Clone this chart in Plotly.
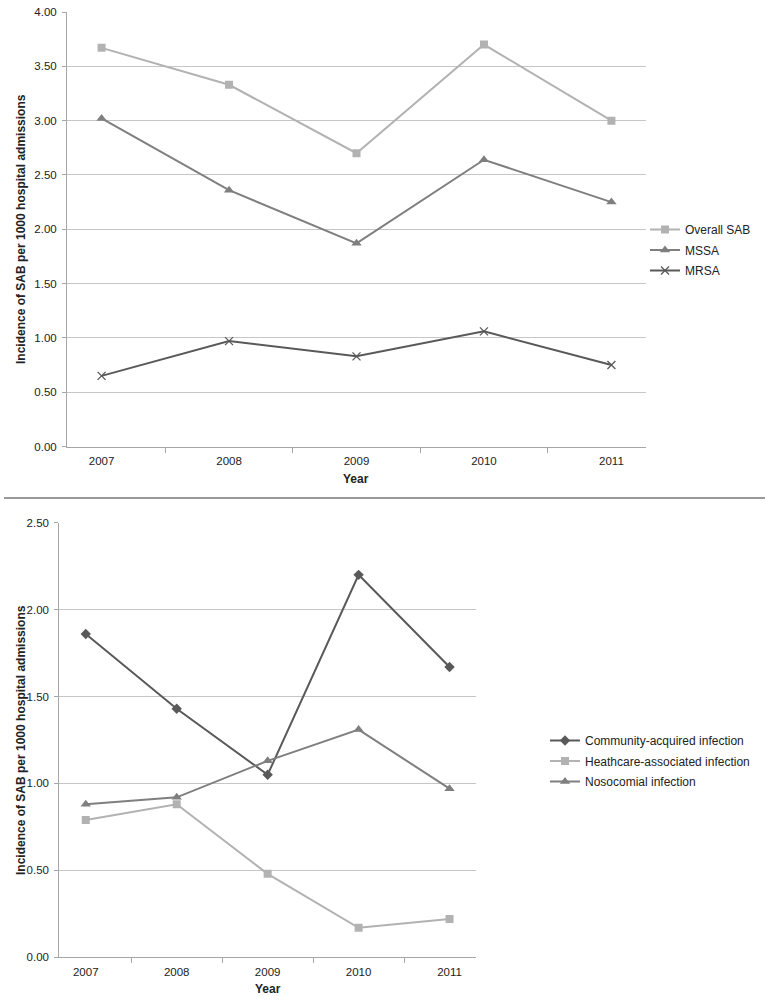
import plotly.graph_objects as go

W, H = 769, 1001

years = ["2007", "2008", "2009", "2010", "2011"]

# Top chart
overall_sab = [3.67, 3.33, 2.70, 3.70, 3.00]
mssa = [3.02, 2.36, 1.87, 2.64, 2.25]
mrsa = [0.65, 0.97, 0.83, 1.06, 0.75]

# Bottom chart
community = [1.86, 1.43, 1.05, 2.20, 1.67]
healthcare = [0.79, 0.88, 0.48, 0.17, 0.22]
nosocomial = [0.88, 0.92, 1.13, 1.31, 0.97]

top_ticks = [0, 0.5, 1, 1.5, 2, 2.5, 3, 3.5, 4]
bottom_ticks = [0, 0.5, 1, 1.5, 2, 2.5]

LIGHT = "#b2b2b2"
MID = "#7f7f7f"
DARK = "#595959"
FONT = "Liberation Sans, Arial, sans-serif"

fig = go.Figure()

def add(y, name, color, symbol, size, xa, ya, legend, lw=2):
    fig.add_trace(go.Scatter(
        x=years, y=y, name=name, mode="lines+markers",
        line=dict(color=color, width=lw),
        marker=dict(symbol=symbol, size=size, color=color,
                    line=dict(color=color, width=1.3 if "thin" in symbol else 0)),
        xaxis=xa, yaxis=ya, legend=legend, legendgroup=name,
    ))

add(overall_sab, "Overall SAB", LIGHT, "square", 8, "x", "y", "legend")
add(mssa, "MSSA", MID, "triangle-up", 9, "x", "y", "legend")
add(mrsa, "MRSA", DARK, "x-thin", 8, "x", "y", "legend")

add(community, "Community-acquired infection", DARK, "diamond", 8, "x2", "y2", "legend2")
add(healthcare, "Heathcare-associated infection", LIGHT, "square", 8, "x2", "y2", "legend2")
add(nosocomial, "Nosocomial infection", MID, "triangle-up", 9, "x2", "y2", "legend2")

def px_x(p):
    return p / W

def px_y(p):
    return 1 - p / H

xcommon = dict(type="category", tickson="boundaries", ticks="outside", ticklen=5,
               tickcolor="#a6a6a6", showline=True, linecolor="#a6a6a6", linewidth=1,
               showgrid=False, automargin=False, ticklabelstandoff=4,
               tickfont=dict(family=FONT, size=11.5, color="#222"),
               fixedrange=True)
ycommon = dict(ticks="outside", ticklen=4, tickcolor="#a6a6a6", showline=True,
               linecolor="#a6a6a6", linewidth=1, showgrid=True, gridcolor="#c6c6c6",
               gridwidth=1, zeroline=False, tickformat=".2f", automargin=False,
               ticklabelstandoff=3,
               tickfont=dict(family=FONT, size=11.5, color="#222"), fixedrange=True)

fig.update_layout(
    template="none",
    width=W, height=H,
    margin=dict(l=0, r=0, t=0, b=0, pad=0),
    paper_bgcolor="white", plot_bgcolor="white",
    font=dict(family=FONT, size=12, color="#222"),
    xaxis=dict(domain=[px_x(67), px_x(646)], anchor="y", **xcommon),
    yaxis=dict(domain=[px_y(446.5), px_y(12)], anchor="x", range=[0, 4],
               tickvals=top_ticks, **ycommon),
    xaxis2=dict(domain=[px_x(59.3), px_x(476)], anchor="y2", **xcommon),
    yaxis2=dict(domain=[px_y(957.3), px_y(522.7)], anchor="x2", range=[0, 2.5],
                tickvals=bottom_ticks, **ycommon),
    legend=dict(x=px_x(645), y=px_y(215), xanchor="left", yanchor="top",
                bgcolor="rgba(0,0,0,0)", itemwidth=30, tracegroupgap=1.5,
                font=dict(family=FONT, size=12, color="#222")),
    legend2=dict(x=px_x(545), y=px_y(726), xanchor="left", yanchor="top",
                 bgcolor="rgba(0,0,0,0)", itemwidth=30, tracegroupgap=1.5,
                 font=dict(family=FONT, size=12, color="#222")),
    showlegend=True,
)

ytitle = "Incidence of SAB per 1000 hospital admissions"
ann = [
    dict(text="<b>" + ytitle + "</b>", x=px_x(21), y=px_y(229), textangle=-90),
    dict(text="<b>" + ytitle + "</b>", x=px_x(21), y=px_y(740), textangle=-90),
    dict(text="<b>Year</b>", x=px_x(356), y=px_y(479)),
    dict(text="<b>Year</b>", x=px_x(267.7), y=px_y(989)),
]
for a in ann:
    fig.add_annotation(xref="paper", yref="paper", showarrow=False,
                       xanchor="center", yanchor="middle",
                       font=dict(family=FONT, size=12, color="#222"), **a)

fig.add_shape(type="line", xref="paper", yref="paper",
              x0=px_x(4), x1=px_x(765), y0=px_y(498), y1=px_y(498),
              line=dict(color="#9a9a9a", width=2))

fig.write_html("out.html", config={"displayModeBar": False},
               post_script="document.body.style.margin='0';document.body.style.padding='0';")
